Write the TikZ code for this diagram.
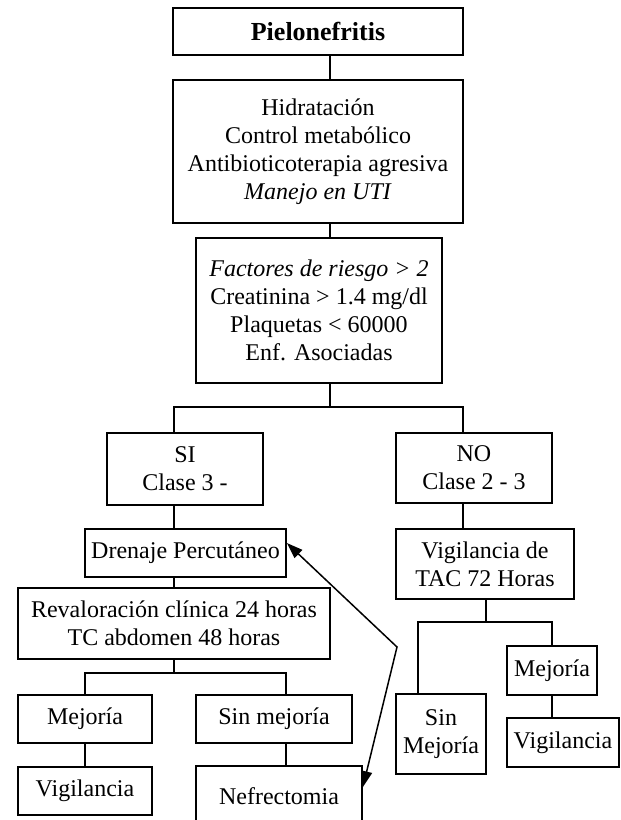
\documentclass[tikz,border=0pt]{standalone}
\usepackage{fontspec}
\setmainfont{Liberation Serif}
\usetikzlibrary{arrows.meta}
\begin{document}
\begin{tikzpicture}[x=1pt,y=-1pt,line width=1.7pt,
  caja/.style={draw,align=center,inner sep=0pt,font=\fontsize{24}{28}\selectfont},
  punta/.style={{Triangle[length=16pt,width=11pt]}-{Triangle[length=16pt,width=11pt]},line width=1.5pt}]
\useasboundingbox (0,0) rectangle (621,820);
\node (pie) at (318,31.5)[caja,minimum width=290pt,minimum height=47pt,font=\fontsize{26}{28}\selectfont\bfseries]{Pielonefritis};
\node (trat) at (318,151.5)[caja,minimum width=290pt,minimum height=143pt]{Hidratación\\Control metabólico\\Antibioticoterapia agresiva\\\textit{Manejo en UTI}};
\node (fact) at (319,310.5)[caja,minimum width=246pt,minimum height=145pt]{\textit{Factores de riesgo > 2}\\Creatinina > 1.4 mg/dl\\Plaquetas < 60000\\Enf. Asociadas};
\node (si) at (185,469)[caja,minimum width=156pt,minimum height=72pt]{SI\\Clase 3 -};
\node (no) at (474,468)[caja,minimum width=156pt,minimum height=70pt]{NO\\Clase 2 - 3};
\node (dren) at (185.5,553)[caja,minimum width=201pt,minimum height=48pt]{Drenaje Percutáneo};
\node (rev) at (174,623.5)[caja,minimum width=312pt,minimum height=71pt]{Revaloración clínica 24 horas\\TC abdomen 48 horas};
\node (mej1) at (85,719)[caja,minimum width=134pt,minimum height=48pt]{Mejoría};
\node (sinm1) at (274,719)[caja,minimum width=156pt,minimum height=48pt]{Sin mejoría};
\node (vig1) at (85,791)[caja,minimum width=134pt,minimum height=48pt]{Vigilancia};
\node (nef) at (279,796)[caja,minimum width=166pt,minimum height=60pt]{Nefrectomia};
\node (vig2) at (485,564)[caja,minimum width=178pt,minimum height=70pt]{Vigilancia de\\TAC 72 Horas};
\node (sinm2) at (441,734)[caja,minimum width=90pt,minimum height=80pt]{Sin\\Mejoría};
\node (mej2) at (552,670.5)[caja,minimum width=90pt,minimum height=49pt]{Mejoría};
\node (vig3) at (563,742.5)[caja,minimum width=112pt,minimum height=49pt]{Vigilancia};
% ramas
\coordinate (tronco) at (330,407);
\coordinate (sil) at (174,407);
\coordinate (nol) at (463,407);
\coordinate (rb) at (174,673);
\coordinate (rbr) at (286,673);
\coordinate (vb) at (486,622);
\coordinate (vbl) at (418,622);
\coordinate (codo) at (397,647);
\draw (pie.south -| tronco)--(trat.north -| tronco);
\draw (trat.south -| tronco)--(fact.north -| tronco);
\draw (fact.south -| tronco)--(tronco);
\draw (si.north -| sil)--(sil)--(nol)--(no.north -| nol);
\draw (si.south -| sil)--(dren.north -| sil);
\draw (dren.south -| sil)--(rev.north -| sil);
\draw (rev.south -| rb)--(rb);
\draw (mej1.north) |- (rbr)--(sinm1.north -| rbr);
\draw (mej1.south)--(vig1.north);
\draw (sinm1.south -| rbr)--(nef.north -| rbr);
\draw (no.south -| nol)--(vig2.north -| nol);
\draw (vig2.south -| vb)--(vb);
\draw (sinm2.north -| vbl)--(vbl) -| (mej2.north);
\draw (mej2.south)--(vig3.north -| mej2.south);
\draw[punta] ([yshift=10pt]dren.east)--(codo)--([yshift=-22pt]nef.north east);
\end{tikzpicture}
\end{document}
